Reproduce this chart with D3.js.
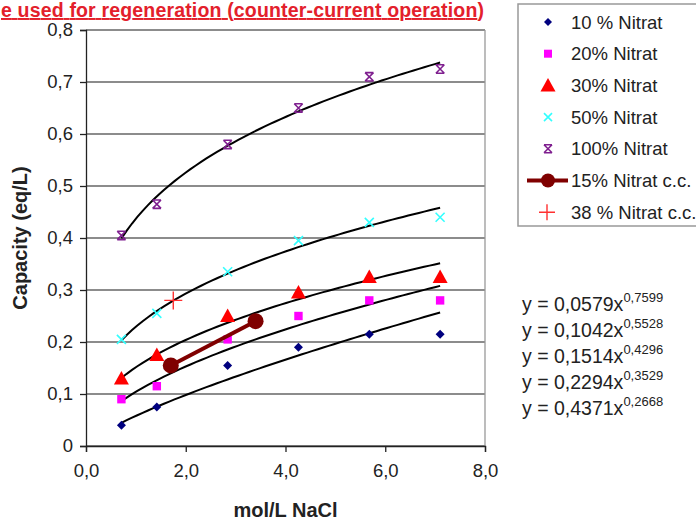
<!DOCTYPE html>
<html>
<head>
<meta charset="utf-8">
<script src="https://cdn.jsdelivr.net/npm/d3@7"></script>
<style>
  body { margin: 0; background: #fff; }
  svg { font-family: "Liberation Sans", Arial, sans-serif; }
</style>
</head>
<body>
<div id="chart"></div>
<script>
// Data
const xValues = [0.71, 1.42, 2.84, 4.26, 5.68, 7.1];
const nitrat10 = [0.04, 0.075, 0.155, 0.19, 0.215, 0.215];
const nitrat20 = [0.09, 0.115, 0.205, 0.25, 0.28, 0.28];
const nitrat30 = [0.13, 0.175, 0.25, 0.295, 0.325, 0.325];
const nitrat50 = [0.205, 0.255, 0.335, 0.395, 0.43, 0.44];
const nitrat100 = [0.405, 0.465, 0.58, 0.65, 0.71, 0.725];
const cc15x = [1.7, 3.4];
const cc15y = [0.155, 0.24];
const cc38x = [1.75];
const cc38y = [0.28];

// power trendlines y = a * x^b as printed on the chart
const trendA = [0.0579, 0.1042, 0.1514, 0.2294, 0.4371];
const trendB = [0.7599, 0.5528, 0.4296, 0.3529, 0.2668];
const trendLabelsA = ["0,0579", "0,1042", "0,1514", "0,2294", "0,4371"];
const trendLabelsB = ["0,7599", "0,5528", "0,4296", "0,3529", "0,2668"];

const legendLabels = ["10 % Nitrat", "20% Nitrat", "30% Nitrat", "50% Nitrat",
                      "100% Nitrat", "15% Nitrat c.c.", "38 % Nitrat c.c."];
const xTicks = [0, 2, 4, 6, 8];
const yTicks = [0, 0.1, 0.2, 0.3, 0.4, 0.5, 0.6, 0.7, 0.8];

const svg = d3.select("#chart").append("svg")
    .attr("width", 696)
    .attr("height", 522);

const x = d3.scaleLinear().domain([0, 8]).range([86, 485]);
const y = d3.scaleLinear().domain([0, 0.8]).range([446, 30]);
const fmt = d => d.toFixed(1).replace(".", ",");
const fmtY = d => d === 0 ? "0" : d.toFixed(1).replace(".", ",");

// title (only the part visible in the original)
svg.append("text")
    .attr("x", 1).attr("y", 17)
    .attr("fill", "#e3202b")
    .attr("font-weight", "bold")
    .attr("font-size", 19.5)
    .attr("textLength", 483)
    .attr("lengthAdjust", "spacing")
    .attr("text-decoration", "underline")
    .text("e used for regeneration (counter-current operation)");

// gridlines
svg.append("g")
    .selectAll("line")
    .data(yTicks)
    .enter().append("line")
    .attr("x1", x(0)).attr("x2", x(8))
    .attr("y1", d => y(d)).attr("y2", d => y(d))
    .attr("stroke", "#666")
    .attr("stroke-width", 1.3);

// right frame
svg.append("line")
    .attr("x1", x(8)).attr("x2", x(8))
    .attr("y1", y(0.8)).attr("y2", y(0))
    .attr("stroke", "#999").attr("stroke-width", 1.3);

// axes
const yAxis = svg.append("g")
    .attr("transform", `translate(${x(0)},0)`)
    .call(d3.axisLeft(y).tickValues(yTicks).tickFormat(fmtY).tickSize(6).tickPadding(7));
const xAxis = svg.append("g")
    .attr("transform", `translate(0,${y(0)})`)
    .call(d3.axisBottom(x).tickValues(xTicks).tickFormat(fmt).tickSize(6).tickPadding(12));
[xAxis, yAxis].forEach(a => {
    a.select(".domain").attr("stroke", "#222").attr("stroke-width", 1.3);
    a.selectAll(".tick line").attr("stroke", "#222").attr("stroke-width", 1.3);
    a.selectAll("text").attr("font-size", 18.5).attr("fill", "#222")
        .attr("font-family", "Liberation Sans, Arial, sans-serif");
});

// axis titles
svg.append("text")
    .attr("transform", `translate(27,${(y(0) + y(0.8)) / 2}) rotate(-90)`)
    .attr("text-anchor", "middle")
    .attr("font-weight", "bold").attr("font-size", 20).attr("fill", "#222")
    .text("Capacity (eq/L)");
svg.append("text")
    .attr("x", (x(0) + x(8)) / 2).attr("y", 517)
    .attr("text-anchor", "middle")
    .attr("font-weight", "bold").attr("font-size", 20).attr("fill", "#222")
    .text("mol/L NaCl");

// trendlines
const line = d3.line().x(d => x(d[0])).y(d => y(d[1])).curve(d3.curveLinear);
const xmin = d3.min(xValues), xmax = d3.max(xValues);
trendA.forEach((a, i) => {
    const pts = d3.range(0, 61).map(k => {
        const xv = xmin + (xmax - xmin) * k / 60;
        return [xv, a * Math.pow(xv, trendB[i])];
    });
    svg.append("path")
        .datum(pts)
        .attr("d", line)
        .attr("fill", "none")
        .attr("stroke", "#000")
        .attr("stroke-width", 2);
});

// marker painters
function diamond(g, cx, cy, s) {
    g.append("path").attr("d", `M${cx},${cy - s}L${cx + s},${cy}L${cx},${cy + s}L${cx - s},${cy}Z`)
        .attr("fill", "#00007f");
}
function square(g, cx, cy, s) {
    g.append("rect").attr("x", cx - s).attr("y", cy - s).attr("width", 2 * s).attr("height", 2 * s)
        .attr("fill", "#ff00ff");
}
function triangle(g, cx, cy, s) {
    g.append("path").attr("d", `M${cx},${cy - s}L${cx + s},${cy + s * 0.8}L${cx - s},${cy + s * 0.8}Z`)
        .attr("fill", "#ff0000");
}
function cross(g, cx, cy, s) {
    g.append("path").attr("d", `M${cx - s},${cy - s}L${cx + s},${cy + s}M${cx - s},${cy + s}L${cx + s},${cy - s}`)
        .attr("stroke", "#33ffff").attr("stroke-width", 1.6);
}
function star(g, cx, cy, s) {
    g.append("path").attr("d", `M${cx - s},${cy - s}L${cx + s},${cy + s}M${cx - s},${cy + s}L${cx + s},${cy - s}` +
        `M${cx - s},${cy - s}L${cx + s},${cy - s}M${cx - s},${cy + s}L${cx + s},${cy + s}`)
        .attr("stroke", "#7f1f8f").attr("stroke-width", 1.6);
}
function plus(g, cx, cy, s) {
    g.append("path").attr("d", `M${cx - s},${cy}L${cx + s},${cy}M${cx},${cy - s}L${cx},${cy + s}`)
        .attr("stroke", "#ff3030").attr("stroke-width", 1.4);
}
function ccLine(g, cx, cy, r) {
    g.append("circle").attr("cx", cx).attr("cy", cy).attr("r", r).attr("fill", "#7f0000");
}

const series = [
    { ys: nitrat10, draw: diamond, size: 4.5 },
    { ys: nitrat20, draw: square, size: 4.2 },
    { ys: nitrat30, draw: triangle, size: 7.5 },
    { ys: nitrat50, draw: cross, size: 4.5 },
    { ys: nitrat100, draw: star, size: 4.2 }
];

const marks = svg.append("g");
series.forEach(s => {
    s.ys.forEach((v, i) => s.draw(marks, x(xValues[i]), y(v), s.size));
});

// 15% c.c. line with circles
svg.append("path")
    .datum(cc15x.map((d, i) => [d, cc15y[i]]))
    .attr("d", line)
    .attr("fill", "none")
    .attr("stroke", "#800000")
    .attr("stroke-width", 4);
cc15x.forEach((d, i) => ccLine(svg, x(d), y(cc15y[i]), 8));

// 38% c.c.
cc38x.forEach((d, i) => plus(svg, x(d), y(cc38y[i]), 9));

// legend
svg.append("rect")
    .attr("x", 518).attr("y", 4).attr("width", 200).attr("height", 222)
    .attr("fill", "#fff").attr("stroke", "#999").attr("stroke-width", 1.5);
const legendY = d3.range(legendLabels.length).map(i => 22 + i * 31.7);
const legendDraw = [
    g => diamond(g, 548, legendY[0], 4),
    g => square(g, 548, legendY[1], 4),
    g => triangle(g, 548, legendY[2], 7.5),
    g => cross(g, 548, legendY[3], 4),
    g => star(g, 548, legendY[4], 4),
    g => {
        g.append("line").attr("x1", 527).attr("x2", 568)
            .attr("y1", legendY[5]).attr("y2", legendY[5])
            .attr("stroke", "#800000").attr("stroke-width", 4);
        ccLine(g, 548, legendY[5], 7);
    },
    g => plus(g, 547, legendY[6], 8)
];
const lg = svg.append("g");
legendLabels.forEach((t, i) => {
    legendDraw[i](lg);
    lg.append("text")
        .attr("x", 571).attr("y", legendY[i] + 6.5)
        .attr("font-size", 18.5).attr("fill", "#222")
        .text(t);
});

// trendline equations
const eq = svg.append("g");
trendLabelsA.forEach((a, i) => {
    const t = eq.append("text")
        .attr("x", 522).attr("y", 311 + i * 26)
        .attr("font-size", 19.5).attr("fill", "#222");
    t.append("tspan").text(`y = ${a}x`);
    t.append("tspan").attr("dy", -9).attr("font-size", 13).text(trendLabelsB[i]);
});
</script>
</body>
</html>
